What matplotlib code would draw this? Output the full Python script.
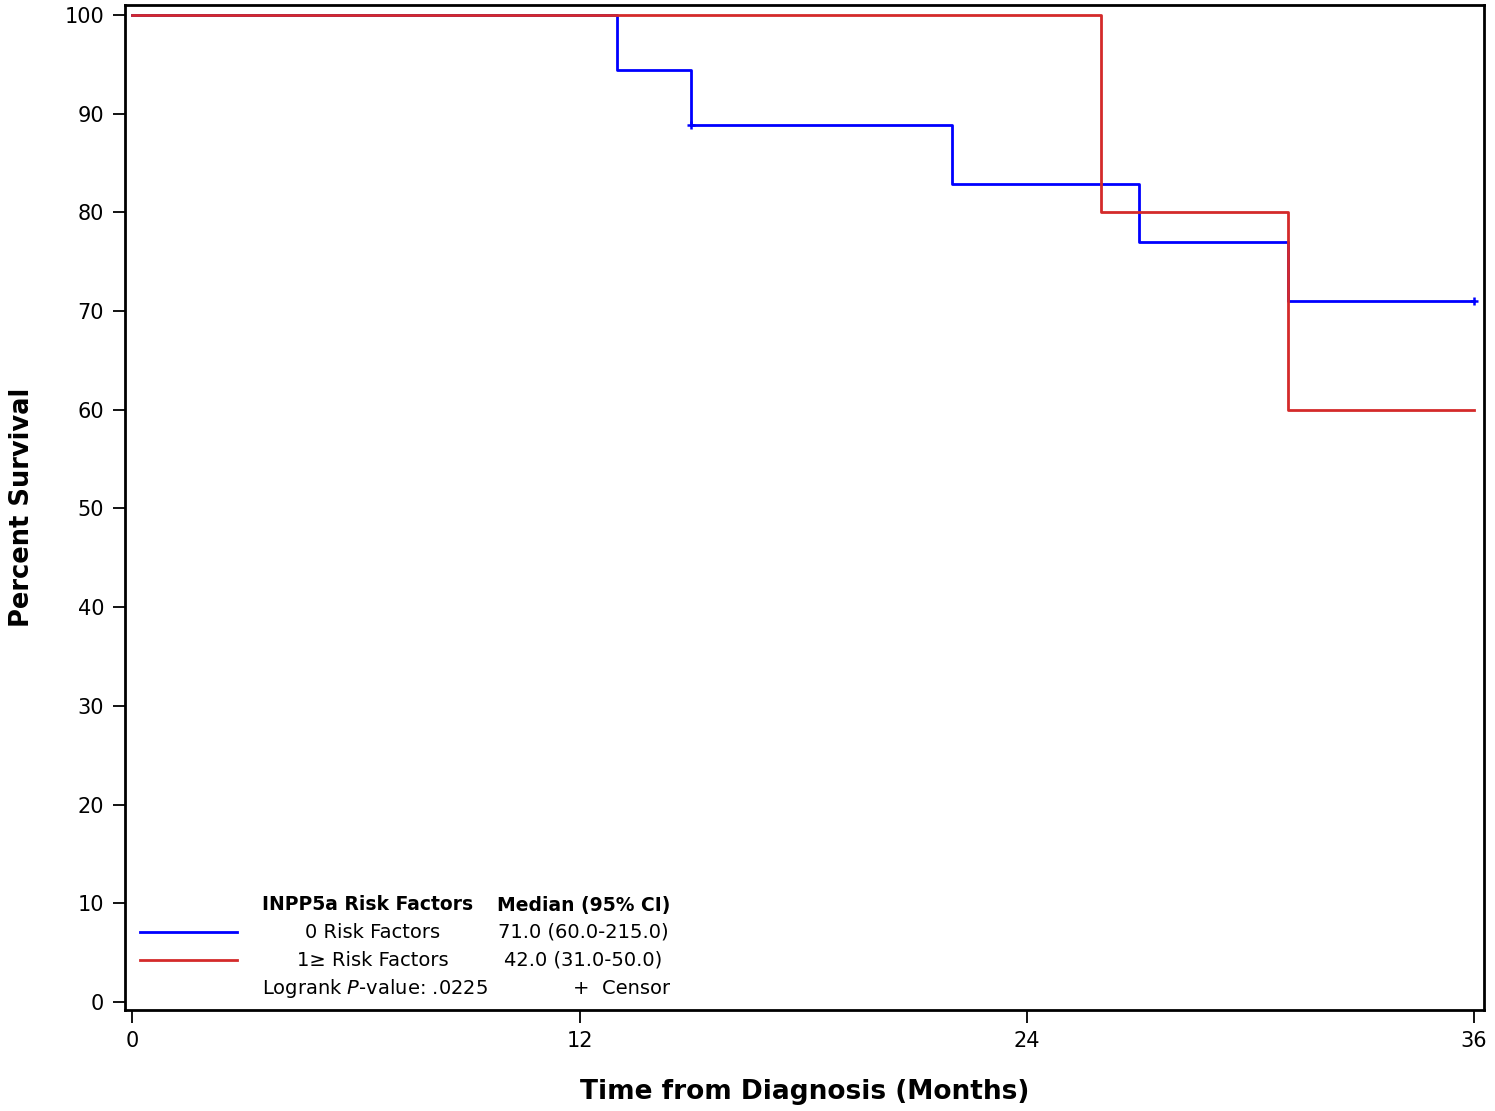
import matplotlib
matplotlib.use("Agg")
import matplotlib.pyplot as plt

# Kaplan-Meier estimates
blue_time = [0, 13, 15, 22, 27, 31, 36]
blue_surv = [100, 94.4, 88.8, 82.9, 77.0, 71.0, 71.0]
red_time = [0, 26, 31, 36]
red_surv = [100, 80, 60, 60]
blue_censor_time = [15, 36]
blue_censor_surv = [88.8, 71.0]

x_ticks = [0, 12, 24, 36]
y_ticks = [0, 10, 20, 30, 40, 50, 60, 70, 80, 90, 100]

group_labels = ["0 Risk Factors", "1\u2265 Risk Factors"]
median_labels = ["71.0 (60.0-215.0)", "42.0 (31.0-50.0)"]

BLUE = "#0000ff"
RED = "#d42a2a"

plt.rcParams["font.family"] = ["DejaVu Sans"]

fig = plt.figure(figsize=(14.95, 11.11), dpi=100)
ax = fig.add_axes([125 / 1495, 1 - 1010 / 1111, 1359 / 1495, 1005 / 1111])

ax.step(blue_time, blue_surv, where="post", color=BLUE, lw=2)
ax.step(red_time, red_surv, where="post", color=RED, lw=2)
ax.plot(blue_censor_time, blue_censor_surv, ls="none", marker="+",
        color=BLUE, ms=6, mew=1.8)

ax.set_xlim(-0.2, 36.27)
ax.set_ylim(-0.8, 101)
ax.set_xticks(x_ticks)
ax.set_yticks(y_ticks)
ax.tick_params(direction="out", length=9, width=1.3, labelsize=15, pad=6)
for s in ax.spines.values():
    s.set_linewidth(2)

ax.set_xlabel("Time from Diagnosis (Months)", fontsize=19, fontweight="bold", labelpad=20)
ax.set_ylabel("Percent Survival", fontsize=18.5, fontweight="bold", labelpad=21)

# custom legend block
def fx(px):
    return (px - 125) / 1359

def fy(py):
    return (1010 - py) / 1005

tr = ax.transAxes
fs = 14
ax.text(fx(262), fy(905), "INPP5a Risk Factors", transform=tr, fontsize=13.5,
        fontweight="bold", va="center", ha="left")
ax.text(fx(670), fy(905), "Median (95% CI)", transform=tr, fontsize=13.5,
        fontweight="bold", va="center", ha="right")
for i, (c, py) in enumerate([(BLUE, 932), (RED, 960)]):
    ax.plot([fx(140), fx(237)], [fy(py), fy(py)], transform=tr, color=c, lw=2)
    ax.text(fx(373), fy(py), group_labels[i], transform=tr, fontsize=fs,
            va="center", ha="center")
    ax.text(fx(583), fy(py), median_labels[i], transform=tr, fontsize=fs,
            va="center", ha="center")
ax.text(fx(262), fy(988), "Logrank $\\it{P}$-value: .0225", transform=tr,
        fontsize=fs, va="center", ha="left")
ax.text(fx(670), fy(988), "+  Censor", transform=tr, fontsize=fs,
        va="center", ha="right")

fig.savefig("out.png", dpi=100)
